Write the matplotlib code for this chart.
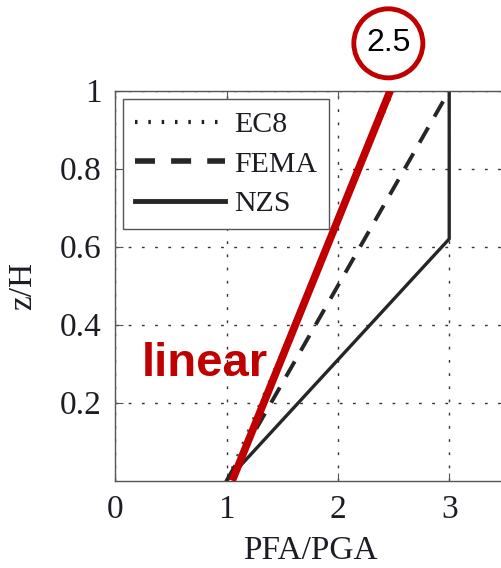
import matplotlib
matplotlib.use("Agg")
import matplotlib.pyplot as plt
from matplotlib.patches import Ellipse

# height ratio z/H and floor acceleration ratio PFA/PGA for each code
ec8_z = [0.0, 1.0]
ec8_pfa = [1.0, 2.5]
fema_z = [0.0, 1.0]
fema_pfa = [1.0, 3.0]
nzs_z = [0.0, 0.62, 1.0]
nzs_pfa = [1.0, 3.0, 3.0]

# red "linear" overlay
lin_z = [0.0, 1.0]
lin_pfa = [1.05, 2.47]
lin_label = "2.5"

xticks = [0, 1, 2, 3]
yticks = [0.2, 0.4, 0.6, 0.8, 1.0]
ytick_labels = ["0.2", "0.4", "0.6", "0.8", "1"]

red = "#C00000"
ink = "#262626"
textc = "#1c1c24"

plt.rcParams['font.family'] = ['Liberation Serif', 'DejaVu Serif']

fig = plt.figure(figsize=(5.02, 5.68), dpi=100)
ax = fig.add_axes([0.2297, 0.1537, 0.776, 0.6866])

ax.plot(ec8_pfa, ec8_z, color="#444444", lw=1.6, linestyle=(0, (1, 5)), label="EC8")
ax.plot(fema_pfa, fema_z, color=ink, lw=2.8, linestyle=(0, (4.5, 3.2)), label="FEMA")
ax.plot(nzs_pfa, nzs_z, color=ink, lw=2.4, label="NZS")

ax.set_xlim(0, 3.5)
ax.set_ylim(0, 1)
ax.set_xticks(xticks)
ax.set_yticks(yticks)
ax.set_yticklabels(ytick_labels)
ax.tick_params(direction="in", length=6, width=0.8, colors="#555555",
               labelcolor=textc, labelsize=24, top=True, right=False, pad=10)
ax.grid(True, color="#333333", lw=1.0, linestyle=(0, (2, 7.5)))
for s in ["left", "bottom", "top"]:
    ax.spines[s].set_color("#555555")
    ax.spines[s].set_linewidth(1.0)
ax.spines["right"].set_visible(False)

ax.set_xlabel("PFA/PGA", fontsize=24, color=textc)
ax.set_ylabel("z/H", fontsize=24, color=textc)
ax.xaxis.set_label_coords(0.5, -0.14)
ax.yaxis.set_label_coords(-0.198, 0.5)

leg = ax.legend(loc="upper left", bbox_to_anchor=(0.0205, 0.978), borderaxespad=0,
                fontsize=21.5, handlelength=3.0, handletextpad=0.3, labelspacing=0.42,
                borderpad=0.4, fancybox=False, framealpha=1, edgecolor="#555555")
leg.get_frame().set_linewidth(1.0)
for t in leg.get_texts():
    t.set_color(textc)
hl = leg.get_lines()
hl[0].set_linewidth(3)
hl[0].set_linestyle((0, (0.6, 2.6)))
hl[0].set_color("#222222")
hl[1].set_linewidth(4)
hl[1].set_linestyle((0, (3.6, 2.9)))
hl[2].set_linewidth(3.5)

# red annotation
ax.plot(lin_pfa, lin_z, color=red, lw=5.5, solid_capstyle="butt", zorder=5)
ax.text(0.235, 0.268, "linear", color=red, fontsize=34, fontweight="bold",
        family="Liberation Sans", ha="left", va="baseline", zorder=6)
ax.add_patch(Ellipse((2.453, 1.1215), 0.62, 0.177, fill=False, edgecolor=red,
                     lw=3.5, clip_on=False, zorder=6))
ax.text(2.453, 1.1215, lin_label, fontsize=23, family="Liberation Sans", color="black",
        ha="center", va="center", clip_on=False, zorder=7)

fig.savefig("out.png", dpi=100)
